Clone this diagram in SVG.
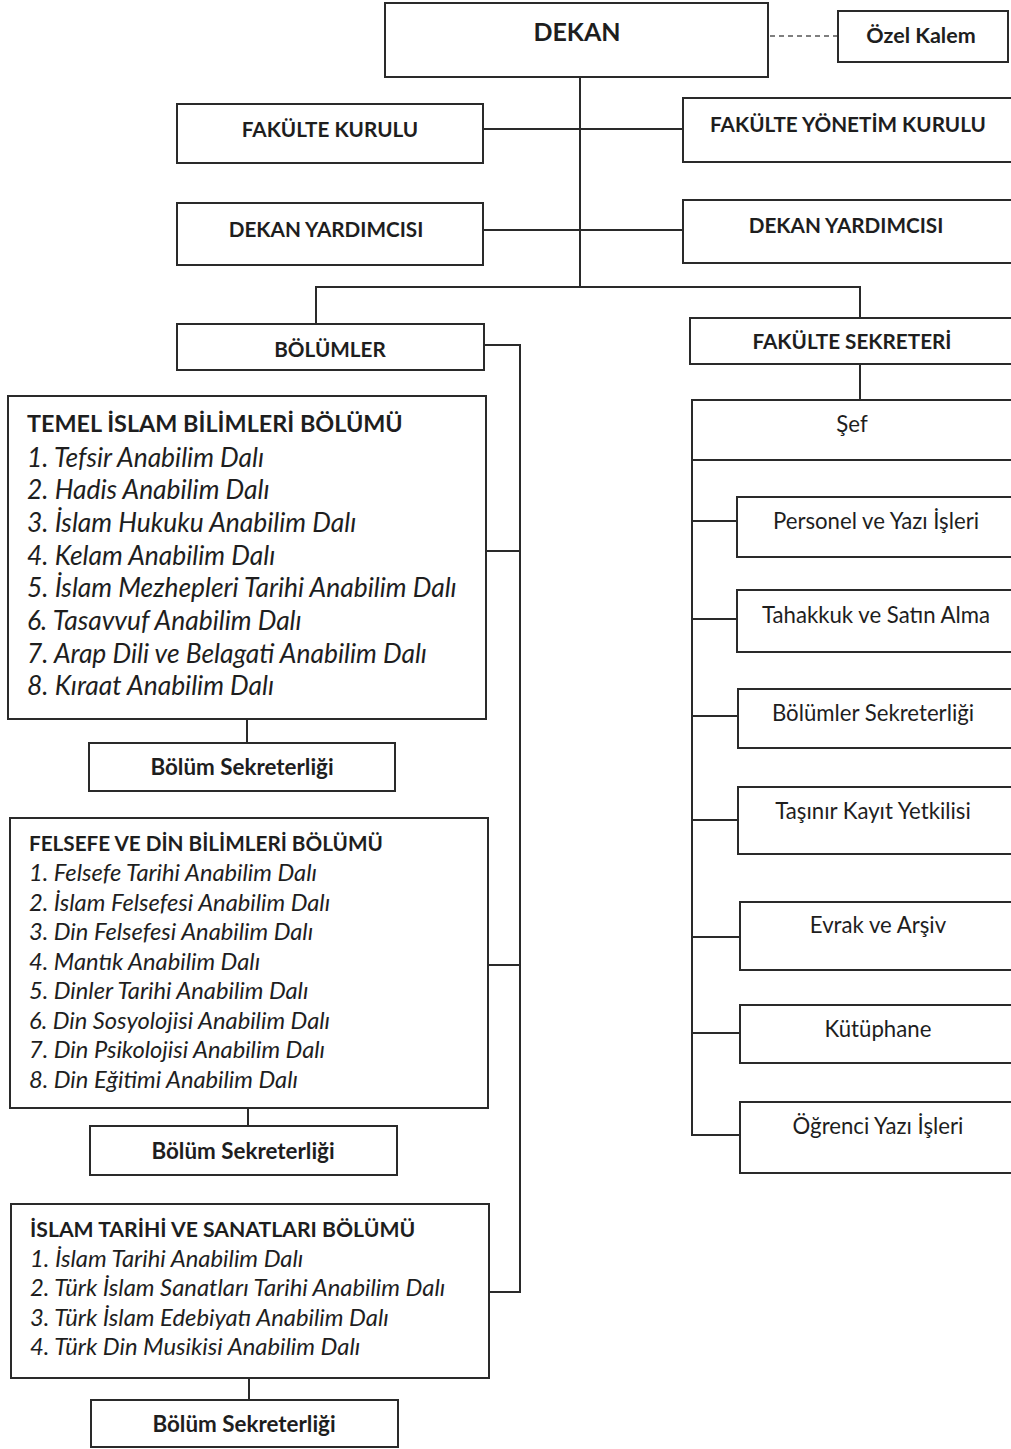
<svg xmlns="http://www.w3.org/2000/svg" width="1011" height="1449" viewBox="0 0 1011 1449">
<style>
.box{fill:#fff;stroke:#2a2a2a;stroke-width:2}
.ln{fill:none;stroke:#2a2a2a;stroke-width:2}
.dash{fill:none;stroke:#555;stroke-width:1.5;stroke-dasharray:5 4}
text{font-family:Lato,"Open Sans","Liberation Sans",sans-serif;fill:#1e1e1e}
.b{font-weight:bold}
.c{text-anchor:middle}
.it{font-style:italic}
.h{font-weight:bold;font-size:20.7px}
.r{font-size:22.2px}
.s{font-weight:bold;font-size:22.4px}
</style>
<rect width="1011" height="1449" fill="#fff"/>
<g id="connectors">
<path class="dash" d="M770 36H838"/>
<path class="ln" d="M580 77V287"/>
<path class="ln" d="M483 129H683"/>
<path class="ln" d="M483 230H683"/>
<path class="ln" d="M316 325V287H860V318"/>
<path class="ln" d="M484 345H520V1292H489"/>
<path class="ln" d="M486 551H520"/>
<path class="ln" d="M489 965H520"/>
<path class="ln" d="M860 364V400"/>
<path class="ln" d="M692 460V1135H740"/>
<path class="ln" d="M692 521H737"/>
<path class="ln" d="M692 619H737"/>
<path class="ln" d="M692 716H738"/>
<path class="ln" d="M692 820H738"/>
<path class="ln" d="M692 937H740"/>
<path class="ln" d="M692 1033H740"/>
<path class="ln" d="M247 719V743"/>
<path class="ln" d="M248 1108V1126"/>
<path class="ln" d="M249 1378V1400"/>
</g>
<g id="dekan"><rect class="box" x="385" y="3" width="383" height="74"/><text class="b c" x="577" y="41" font-size="25">DEKAN</text></g>
<g id="ozel-kalem"><rect class="box" x="838" y="11" width="170" height="51"/><text class="b c" x="921" y="43" font-size="21.5">Özel Kalem</text></g>
<g id="fakulte-kurulu"><rect class="box" x="177" y="104" width="306" height="59"/><text class="h c" x="330" y="137">FAKÜLTE KURULU</text></g>
<g id="fakulte-yonetim-kurulu"><rect class="box" x="683" y="98" width="335" height="64"/><text class="h c" x="848" y="132">FAKÜLTE YÖNETİM KURULU</text></g>
<g id="dekan-yardimcisi-1"><rect class="box" x="177" y="203" width="306" height="62"/><text class="h c" x="326" y="237">DEKAN YARDIMCISI</text></g>
<g id="dekan-yardimcisi-2"><rect class="box" x="683" y="200" width="335" height="63"/><text class="h c" x="846" y="233">DEKAN YARDIMCISI</text></g>
<g id="bolumler"><rect class="box" x="177" y="324" width="307" height="46"/><text class="h c" x="330" y="357">BÖLÜMLER</text></g>
<g id="fakulte-sekreteri"><rect class="box" x="690" y="318" width="328" height="46"/><text class="h c" x="852" y="349">FAKÜLTE SEKRETERİ</text></g>
<g id="sef"><rect class="box" x="692" y="400" width="326" height="60"/><text class="r c" x="852" y="432">Şef</text></g>
<g id="personel"><rect class="box" x="737" y="497" width="281" height="60"/><text class="r c" x="876" y="529">Personel ve Yazı İşleri</text></g>
<g id="tahakkuk"><rect class="box" x="737" y="590" width="281" height="62"/><text class="r c" x="876" y="623">Tahakkuk ve Satın Alma</text></g>
<g id="bolumler-sekreterligi"><rect class="box" x="738" y="689" width="280" height="59"/><text class="r c" x="873" y="721">Bölümler Sekreterliği</text></g>
<g id="tasinir"><rect class="box" x="738" y="787" width="280" height="67"/><text class="r c" x="873" y="819">Taşınır Kayıt Yetkilisi</text></g>
<g id="evrak"><rect class="box" x="740" y="902" width="278" height="68"/><text class="r c" x="878" y="933">Evrak ve Arşiv</text></g>
<g id="kutuphane"><rect class="box" x="740" y="1005" width="278" height="58"/><text class="r c" x="878" y="1037">Kütüphane</text></g>
<g id="ogrenci"><rect class="box" x="740" y="1102" width="278" height="71"/><text class="r c" x="878" y="1134">Öğrenci Yazı İşleri</text></g>
<g id="temel">
<rect class="box" x="8" y="396" width="478" height="323"/>
<text class="b" x="27" y="432" font-size="23.4">TEMEL İSLAM BİLİMLERİ BÖLÜMÜ</text>
<g class="it" font-size="26.4">
<text x="27" y="467">1. Tefsir Anabilim Dalı</text>
<text x="27" y="499">2. Hadis Anabilim Dalı</text>
<text x="27" y="532">3. İslam Hukuku Anabilim Dalı</text>
<text x="27" y="565">4. Kelam Anabilim Dalı</text>
<text x="27" y="597">5. İslam Mezhepleri Tarihi Anabilim Dalı</text>
<text x="27" y="630">6. Tasavvuf Anabilim Dalı</text>
<text x="27" y="663">7. Arap Dili ve Belagati Anabilim Dalı</text>
<text x="27" y="695">8. Kıraat Anabilim Dalı</text>
</g>
</g>
<g id="temel-sekreterlik"><rect class="box" x="89" y="743" width="306" height="48"/><text class="s c" x="242" y="775">Bölüm Sekreterliği</text></g>
<g id="felsefe">
<rect class="box" x="10" y="818" width="478" height="290"/>
<text class="b" x="29" y="851" font-size="20.7">FELSEFE VE DİN BİLİMLERİ BÖLÜMÜ</text>
<g class="it" font-size="23.7">
<text x="29" y="881">1. Felsefe Tarihi Anabilim Dalı</text>
<text x="29" y="911">2. İslam Felsefesi Anabilim Dalı</text>
<text x="29" y="940">3. Din Felsefesi Anabilim Dalı</text>
<text x="29" y="970">4. Mantık Anabilim Dalı</text>
<text x="29" y="999">5. Dinler Tarihi Anabilim Dalı</text>
<text x="29" y="1029">6. Din Sosyolojisi Anabilim Dalı</text>
<text x="29" y="1058">7. Din Psikolojisi Anabilim Dalı</text>
<text x="29" y="1088">8. Din Eğitimi Anabilim Dalı</text>
</g>
</g>
<g id="felsefe-sekreterlik"><rect class="box" x="90" y="1126" width="307" height="49"/><text class="s c" x="243" y="1159">Bölüm Sekreterliği</text></g>
<g id="islam-tarihi">
<rect class="box" x="11" y="1204" width="478" height="174"/>
<text class="b" x="30" y="1237" font-size="21.2">İSLAM TARİHİ VE SANATLARI BÖLÜMÜ</text>
<g class="it" font-size="23.8">
<text x="30" y="1267">1. İslam Tarihi Anabilim Dalı</text>
<text x="30" y="1296">2. Türk İslam Sanatları Tarihi Anabilim Dalı</text>
<text x="30" y="1326">3. Türk İslam Edebiyatı Anabilim Dalı</text>
<text x="30" y="1355">4. Türk Din Musikisi Anabilim Dalı</text>
</g>
</g>
<g id="islam-tarihi-sekreterlik"><rect class="box" x="91" y="1400" width="307" height="47"/><text class="s c" x="244" y="1432">Bölüm Sekreterliği</text></g>
</svg>
